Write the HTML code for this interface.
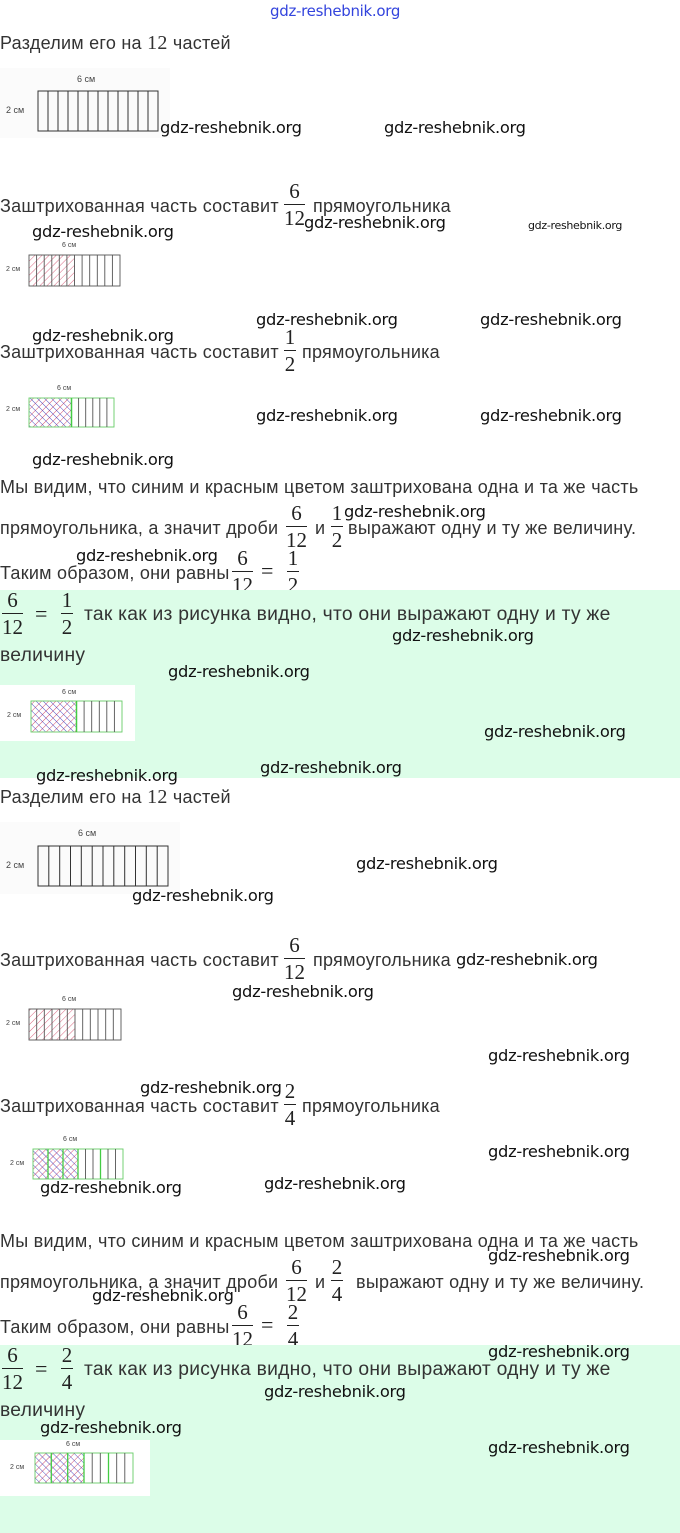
<!DOCTYPE html>
<html><head><meta charset="utf-8"><style>
body{margin:0;width:680px;height:1533px;position:relative;background:#fff;overflow:hidden;font-family:"Liberation Sans",sans-serif;color:#333}
.t{position:absolute;font-size:18px;line-height:20px;white-space:nowrap;letter-spacing:0.25px}
.t.big{font-size:19.3px}
.w{position:absolute;font-family:"DejaVu Sans","Liberation Sans",sans-serif;font-size:16.3px;color:#111;white-space:nowrap;letter-spacing:-0.3px}
.f{position:absolute;font-family:"Liberation Serif",serif;font-size:21px;line-height:22px;text-align:center;color:#222}
.f .b{border-top:1px solid #222;margin:2px 0 2px}
.s{font-family:"Liberation Serif",serif;font-size:20px}
.g{position:absolute;left:0;width:680px;height:188px;background:#dcfde8}
.e{position:absolute;font-family:"Liberation Serif",serif;font-size:22px;color:#222}
</style></head><body>
<div class="g" style="top:590px"></div>
<div class="g" style="top:1345px"></div>
<div style="position:absolute;left:0;top:685px;width:135px;height:56px;background:#fff"></div>
<div style="position:absolute;left:0;top:1440px;width:150px;height:56px;background:#fff"></div>

<div class="w" style="left:270px;top:2px;color:#3344dd;font-size:15px">gdz-reshebnik.org</div>

<svg style="position:absolute;left:0;top:0" width="680" height="1533">
<defs>
<pattern id="r" patternUnits="userSpaceOnUse" width="5" height="5" patternTransform="rotate(45)"><line x1="0" y1="0" x2="0" y2="5" stroke="#d04060" stroke-width="0.8"/></pattern>
<pattern id="x" patternUnits="userSpaceOnUse" width="5" height="5" patternTransform="rotate(45)"><line x1="0" y1="0" x2="0" y2="5" stroke="#d04060" stroke-width="0.9"/><line x1="0" y1="0" x2="5" y2="0" stroke="#4040c0" stroke-width="0.9"/></pattern>
</defs>
<g font-family="Liberation Sans" fill="#444">
<rect x="0" y="68" width="170" height="70" fill="#fbfbfb"/>
<text x="77" y="82" font-size="9">6 см</text><text x="6" y="113" font-size="9">2 см</text>
<g stroke="#333" fill="none"><rect x="38" y="91" width="120" height="40"/>
<path d="M48 91v40M58 91v40M68 91v40M78 91v40M88 91v40M98 91v40M108 91v40M118 91v40M128 91v40M138 91v40M148 91v40"/></g>
<text x="62" y="247" font-size="7">6 см</text><text x="6" y="271" font-size="7">2 см</text>
<rect x="29" y="255" width="45.5" height="31" fill="url(#r)"/>
<g stroke="#555" fill="none" stroke-width="0.9"><rect x="29" y="255" width="91" height="31"/>
<path d="M36.6 255v31M44.2 255v31M51.8 255v31M59.3 255v31M66.9 255v31M74.5 255v31M82.1 255v31M89.7 255v31M97.3 255v31M104.8 255v31M112.4 255v31"/></g>
<text x="57" y="390" font-size="7">6 см</text><text x="6" y="411" font-size="7">2 см</text>
<rect x="29" y="398" width="42.5" height="29" fill="url(#x)"/>
<g stroke="#555" fill="none" stroke-width="0.9"><rect x="29" y="398" width="85" height="29" stroke="#6c6"/>
<path d="M71.5 398v29" stroke="#4c4" stroke-width="1.5"/>
<path d="M78.6 398v29M85.7 398v29M92.8 398v29M99.8 398v29M106.9 398v29"/></g>
<text x="62" y="694" font-size="7">6 см</text><text x="7" y="717" font-size="7">2 см</text>
<rect x="31" y="701" width="45.5" height="31" fill="url(#x)"/>
<g stroke="#555" fill="none" stroke-width="0.9"><rect x="31" y="701" width="91" height="31" stroke="#6c6"/>
<path d="M76.5 701v31" stroke="#4c4" stroke-width="1.5"/>
<path d="M84.1 701v31M91.7 701v31M99.3 701v31M106.8 701v31M114.4 701v31"/></g>
<rect x="0" y="822" width="180" height="72" fill="#fbfbfb"/>
<text x="78" y="836" font-size="9">6 см</text><text x="6" y="868" font-size="9">2 см</text>
<g stroke="#333" fill="none"><rect x="38" y="846" width="130" height="40"/>
<path d="M48.8 846v40M59.7 846v40M70.5 846v40M81.3 846v40M92.2 846v40M103 846v40M113.8 846v40M124.7 846v40M135.5 846v40M146.3 846v40M157.2 846v40"/></g>
<text x="62" y="1001" font-size="7">6 см</text><text x="6" y="1025" font-size="7">2 см</text>
<rect x="29" y="1009" width="46" height="31" fill="url(#r)"/>
<g stroke="#555" fill="none" stroke-width="0.9"><rect x="29" y="1009" width="92" height="31"/>
<path d="M36.7 1009v31M44.3 1009v31M52 1009v31M59.7 1009v31M67.3 1009v31M75 1009v31M82.7 1009v31M90.3 1009v31M98 1009v31M105.7 1009v31M113.3 1009v31"/></g>
<text x="63" y="1141" font-size="7">6 см</text><text x="10" y="1165" font-size="7">2 см</text>
<rect x="33" y="1149" width="45" height="30" fill="url(#x)"/>
<g stroke="#555" fill="none" stroke-width="0.9"><rect x="33" y="1149" width="90" height="30" stroke="#6c6"/>
<path d="M48 1149v30M63 1149v30M78 1149v30M100.5 1149v30" stroke="#4c4" stroke-width="1.3"/>
<path d="M85.5 1149v30M93 1149v30M108 1149v30M115.5 1149v30"/></g>
<text x="66" y="1446" font-size="7">6 см</text><text x="10" y="1469" font-size="7">2 см</text>
<rect x="35" y="1453" width="49" height="30" fill="url(#x)"/>
<g stroke="#555" fill="none" stroke-width="0.9"><rect x="35" y="1453" width="98" height="30" stroke="#6c6"/>
<path d="M51.3 1453v30M67.7 1453v30M84 1453v30M108.5 1453v30" stroke="#4c4" stroke-width="1.3"/>
<path d="M92.2 1453v30M100.3 1453v30M116.7 1453v30M124.8 1453v30"/></g>
</g>
</svg>

<div class="t" style="left:0;top:33px">Разделим его на <span class="s">12</span> частей</div>
<div class="t" style="left:0;top:196px">Заштрихованная часть составит</div>
<div class="f" style="left:284px;top:180px"><div>6</div><div class="b"></div><div>12</div></div>
<div class="t" style="left:313px;top:196px">прямоугольника</div>
<div class="t" style="left:0;top:342px">Заштрихованная часть составит</div>
<div class="f" style="left:284px;top:326px;width:12px"><div>1</div><div class="b"></div><div>2</div></div>
<div class="t" style="left:302px;top:342px">прямоугольника</div>
<div class="t" style="left:0;top:477px">Мы видим, что синим и красным цветом заштрихована одна и та же часть</div>
<div class="t" style="left:0;top:518px">прямоугольника, а значит дроби</div>
<div class="f" style="left:286px;top:502px"><div>6</div><div class="b"></div><div>12</div></div>
<div class="t" style="left:315px;top:518px">и</div>
<div class="f" style="left:331px;top:502px;width:12px"><div>1</div><div class="b"></div><div>2</div></div>
<div class="t" style="left:348px;top:518px">выражают одну и ту же величину.</div>
<div class="t" style="left:0;top:563px">Таким образом, они равны</div>
<div class="f" style="left:232px;top:547px"><div>6</div><div class="b"></div><div>12</div></div>
<div class="e" style="left:261px;top:558px">=</div>
<div class="f" style="left:287px;top:547px;width:12px"><div>1</div><div class="b"></div><div>2</div></div>
<div style="position:absolute;left:0;top:590px;width:680px;height:12px;background:#dcfde8"></div>
<div class="f" style="left:2px;top:589px"><div>6</div><div class="b"></div><div>12</div></div>
<div class="e" style="left:35px;top:601px">=</div>
<div class="f" style="left:61px;top:589px;width:12px"><div>1</div><div class="b"></div><div>2</div></div>
<div class="t big" style="left:84px;top:605px">так как из рисунка видно, что они выражают одну и ту же</div>
<div class="t big" style="left:0;top:646px">величину</div>

<div class="t" style="left:0;top:787px">Разделим его на <span class="s">12</span> частей</div>
<div class="t" style="left:0;top:950px">Заштрихованная часть составит</div>
<div class="f" style="left:284px;top:934px"><div>6</div><div class="b"></div><div>12</div></div>
<div class="t" style="left:313px;top:950px">прямоугольника</div>
<div class="t" style="left:0;top:1096px">Заштрихованная часть составит</div>
<div class="f" style="left:284px;top:1080px;width:12px"><div>2</div><div class="b"></div><div>4</div></div>
<div class="t" style="left:302px;top:1096px">прямоугольника</div>
<div class="t" style="left:0;top:1231px">Мы видим, что синим и красным цветом заштрихована одна и та же часть</div>
<div class="t" style="left:0;top:1272px">прямоугольника, а значит дроби</div>
<div class="f" style="left:286px;top:1256px"><div>6</div><div class="b"></div><div>12</div></div>
<div class="t" style="left:315px;top:1272px">и</div>
<div class="f" style="left:331px;top:1256px;width:12px"><div>2</div><div class="b"></div><div>4</div></div>
<div class="t" style="left:356px;top:1272px">выражают одну и ту же величину.</div>
<div class="t" style="left:0;top:1317px">Таким образом, они равны</div>
<div class="f" style="left:232px;top:1301px"><div>6</div><div class="b"></div><div>12</div></div>
<div class="e" style="left:261px;top:1312px">=</div>
<div class="f" style="left:287px;top:1301px;width:12px"><div>2</div><div class="b"></div><div>4</div></div>
<div style="position:absolute;left:0;top:1345px;width:680px;height:12px;background:#dcfde8"></div>
<div class="f" style="left:2px;top:1344px"><div>6</div><div class="b"></div><div>12</div></div>
<div class="e" style="left:35px;top:1356px">=</div>
<div class="f" style="left:61px;top:1344px;width:12px"><div>2</div><div class="b"></div><div>4</div></div>
<div class="t big" style="left:84px;top:1360px">так как из рисунка видно, что они выражают одну и ту же</div>
<div class="t big" style="left:0;top:1401px">величину</div>

<div class="w" style="left:160px;top:118px">gdz-reshebnik.org</div>
<div class="w" style="left:384px;top:118px">gdz-reshebnik.org</div>
<div class="w" style="left:304px;top:213px">gdz-reshebnik.org</div>
<div class="w" style="left:528px;top:219px;font-size:11px">gdz-reshebnik.org</div>
<div class="w" style="left:32px;top:222px">gdz-reshebnik.org</div>
<div class="w" style="left:256px;top:310px">gdz-reshebnik.org</div>
<div class="w" style="left:480px;top:310px">gdz-reshebnik.org</div>
<div class="w" style="left:32px;top:326px">gdz-reshebnik.org</div>
<div class="w" style="left:256px;top:406px">gdz-reshebnik.org</div>
<div class="w" style="left:480px;top:406px">gdz-reshebnik.org</div>
<div class="w" style="left:32px;top:450px">gdz-reshebnik.org</div>
<div class="w" style="left:344px;top:502px">gdz-reshebnik.org</div>
<div class="w" style="left:76px;top:546px">gdz-reshebnik.org</div>
<div class="w" style="left:392px;top:626px">gdz-reshebnik.org</div>
<div class="w" style="left:168px;top:662px">gdz-reshebnik.org</div>
<div class="w" style="left:484px;top:722px">gdz-reshebnik.org</div>
<div class="w" style="left:36px;top:766px">gdz-reshebnik.org</div>
<div class="w" style="left:260px;top:758px">gdz-reshebnik.org</div>
<div class="w" style="left:356px;top:854px">gdz-reshebnik.org</div>
<div class="w" style="left:132px;top:886px">gdz-reshebnik.org</div>
<div class="w" style="left:456px;top:950px">gdz-reshebnik.org</div>
<div class="w" style="left:232px;top:982px">gdz-reshebnik.org</div>
<div class="w" style="left:488px;top:1046px">gdz-reshebnik.org</div>
<div class="w" style="left:140px;top:1078px">gdz-reshebnik.org</div>
<div class="w" style="left:488px;top:1142px">gdz-reshebnik.org</div>
<div class="w" style="left:40px;top:1178px">gdz-reshebnik.org</div>
<div class="w" style="left:264px;top:1174px">gdz-reshebnik.org</div>
<div class="w" style="left:488px;top:1246px">gdz-reshebnik.org</div>
<div class="w" style="left:92px;top:1286px">gdz-reshebnik.org</div>
<div class="w" style="left:488px;top:1342px">gdz-reshebnik.org</div>
<div class="w" style="left:264px;top:1382px">gdz-reshebnik.org</div>
<div class="w" style="left:40px;top:1418px">gdz-reshebnik.org</div>
<div class="w" style="left:488px;top:1438px">gdz-reshebnik.org</div>
</body></html>
